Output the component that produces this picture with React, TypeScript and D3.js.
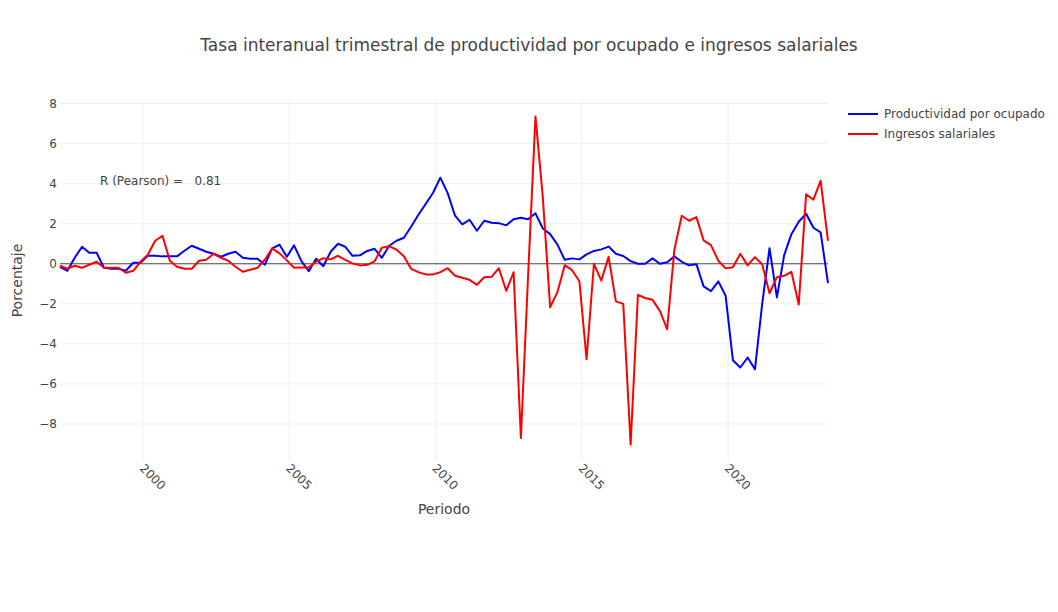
import React, { useEffect, useRef } from "react";
import * as d3 from "d3";

// Trimestral, 1997T1 a 2023T2
const productividad = [
  -0.15, -0.35, 0.3, 0.85, 0.55, 0.55, -0.2, -0.25, -0.25, -0.35, 0.05, 0.05,
  0.4, 0.4, 0.37, 0.37, 0.37, 0.65, 0.9, 0.75, 0.6, 0.5, 0.35, 0.5,
  0.6, 0.3, 0.25, 0.25, -0.05, 0.77, 0.95, 0.35, 0.92, 0.13, -0.37, 0.25,
  -0.12, 0.6, 1.0, 0.85, 0.4, 0.42, 0.64, 0.75, 0.3, 0.9, 1.15, 1.3,
  1.85, 2.45, 3.0, 3.55, 4.3, 3.53, 2.4, 1.97, 2.2, 1.65, 2.15, 2.05,
  2.03, 1.92, 2.22, 2.3, 2.22, 2.52, 1.76, 1.48, 0.97, 0.2, 0.27, 0.22,
  0.47, 0.64, 0.72, 0.86, 0.5, 0.39, 0.13, 0.0, 0.0, 0.27, 0.0, 0.08,
  0.37, 0.1, -0.08, -0.02, -1.13, -1.37, -0.88, -1.6, -4.82, -5.18, -4.68, -5.27,
  -2.02, 0.78, -1.68, 0.43, 1.48, 2.1, 2.5, 1.8, 1.57, -0.97,
];

const ingresos = [
  -0.1, -0.25, -0.1, -0.2, -0.05, 0.1, -0.2, -0.2, -0.2, -0.45, -0.35, 0.1,
  0.45, 1.15, 1.4, 0.15, -0.15, -0.25, -0.25, 0.15, 0.2, 0.5, 0.3, 0.15,
  -0.15, -0.4, -0.3, -0.2, 0.2, 0.77, 0.52, 0.17, -0.2, -0.18, -0.18, 0.1,
  0.28, 0.22, 0.4, 0.2, 0.02, -0.08, -0.05, 0.12, 0.8, 0.88, 0.7, 0.38,
  -0.25, -0.42, -0.53, -0.53, -0.42, -0.22, -0.6, -0.7, -0.8, -1.05, -0.67, -0.65,
  -0.22, -1.35, -0.42, -8.7, -0.6, 7.36, 3.3, -2.17, -1.43, -0.07, -0.32, -0.87,
  -4.77, 0.0, -0.84, 0.35, -1.88, -2.0, -9.03, -1.55, -1.71, -1.8, -2.35, -3.27,
  0.7, 2.4, 2.15, 2.33, 1.17, 0.93, 0.15, -0.23, -0.17, 0.5, -0.08, 0.33,
  -0.02, -1.47, -0.67, -0.6, -0.4, -2.03, 3.47, 3.2, 4.15, 1.15,
];

// one date per quarter, March 1997 .. June 2023
const periodos = d3.timeMonth.range(new Date(1997, 2, 1), new Date(2023, 6, 1), 3);

const yTicks = [-8, -6, -4, -2, 0, 2, 4, 6, 8];
const xTickYears = [2000, 2005, 2010, 2015, 2020];

const series = [
  { name: "Productividad por ocupado", values: productividad, color: "#0000ff" },
  { name: "Ingresos salariales", values: ingresos, color: "#ff0000" },
];

const App: React.FC = () => {
  const ref = useRef<SVGSVGElement>(null);

  useEffect(() => {
    document.body.style.margin = "0";
    const width = 1058;
    const height = 612;
    const margin = { top: 100, right: 230, bottom: 151, left: 60 };
    const font = '"DejaVu Sans", Verdana, sans-serif';

    const x = d3
      .scaleTime()
      .domain(d3.extent(periodos) as [Date, Date])
      .range([margin.left, width - margin.right]);

    const allValues = [...productividad, ...ingresos];
    const lo = d3.min(allValues)!;
    const hi = d3.max(allValues)!;
    const pad = (hi - lo) * 0.05;
    const y = d3
      .scaleLinear()
      .domain([lo - pad, hi + pad])
      .range([height - margin.bottom, margin.top]);

    const svg = d3.select(ref.current);
    svg.selectAll("*").remove();
    svg.attr("width", width).attr("height", height).style("font-family", font).style("display", "block");

    svg.append("rect").attr("width", width).attr("height", height).attr("fill", "#fff");

    // grid
    const grid = svg.append("g");
    grid
      .selectAll("line.gy")
      .data(yTicks.filter((t) => t !== 0))
      .enter()
      .append("line")
      .attr("x1", margin.left)
      .attr("x2", width - margin.right)
      .attr("y1", (d) => y(d))
      .attr("y2", (d) => y(d))
      .attr("stroke", "#eee");
    grid
      .selectAll("line.gx")
      .data(xTickYears)
      .enter()
      .append("line")
      .attr("x1", (d) => x(new Date(d, 0, 1)))
      .attr("x2", (d) => x(new Date(d, 0, 1)))
      .attr("y1", margin.top)
      .attr("y2", height - margin.bottom)
      .attr("stroke", "#eee");

    // y tick labels
    svg
      .append("g")
      .selectAll("text")
      .data(yTicks)
      .enter()
      .append("text")
      .attr("x", margin.left - 3)
      .attr("y", (d) => y(d) + 4)
      .attr("text-anchor", "end")
      .attr("font-size", 12)
      .attr("fill", "#444")
      .text((d) => (d < 0 ? "\u2212" + Math.abs(d) : String(d)));

    // x tick labels (rotated)
    svg
      .append("g")
      .selectAll("text")
      .data(xTickYears)
      .enter()
      .append("text")
      .attr(
        "transform",
        (d) => `translate(${x(new Date(d, 0, 1)) - 4},${height - margin.bottom + 8}) rotate(45)`
      )
      .attr("text-anchor", "start")
      .attr("font-size", 12)
      .attr("fill", "#444")
      .text((d) => String(d));

    // zero line
    svg
      .append("line")
      .attr("x1", margin.left)
      .attr("x2", width - margin.right)
      .attr("y1", y(0))
      .attr("y2", y(0))
      .attr("stroke", "#444")
      .attr("stroke-width", 1);

    const line = d3
      .line<number>()
      .x((_, i) => x(periodos[i]))
      .y((d) => y(d));

    series.forEach((s) => {
      svg
        .append("path")
        .datum(s.values)
        .attr("fill", "none")
        .attr("stroke", s.color)
        .attr("stroke-width", 2)
        .attr("stroke-linejoin", "round")
        .attr("d", line);
    });

    // annotation
    svg
      .append("text")
      .attr("x", 100)
      .attr("y", 185)
      .attr("font-size", 12)
      .attr("fill", "#444")
      .attr("xml:space", "preserve")
      .style("white-space", "pre")
      .text("R (Pearson) =   0.81");

    // title
    svg
      .append("text")
      .attr("x", width / 2)
      .attr("y", 51)
      .attr("text-anchor", "middle")
      .attr("font-size", 17)
      .attr("fill", "#444")
      .text("Tasa interanual trimestral de productividad por ocupado e ingresos salariales");

    // axis titles
    svg
      .append("text")
      .attr("x", (margin.left + width - margin.right) / 2)
      .attr("y", 514)
      .attr("text-anchor", "middle")
      .attr("font-size", 14)
      .attr("fill", "#444")
      .text("Periodo");
    svg
      .append("text")
      .attr("transform", `translate(22,${(margin.top + height - margin.bottom) / 2}) rotate(-90)`)
      .attr("text-anchor", "middle")
      .attr("font-size", 14)
      .attr("fill", "#444")
      .text("Porcentaje");

    // legend
    const legend = svg.append("g").attr("transform", "translate(848,114)");
    series.forEach((s, i) => {
      const g = legend.append("g").attr("transform", `translate(0,${i * 20})`);
      g.append("line").attr("x1", 0).attr("x2", 30).attr("stroke", s.color).attr("stroke-width", 2);
      g.append("text")
        .attr("x", 36)
        .attr("y", 4)
        .attr("font-size", 12)
        .attr("fill", "#444")
        .text(s.name);
    });
  }, []);

  return <svg ref={ref}></svg>;
};

export default App;
